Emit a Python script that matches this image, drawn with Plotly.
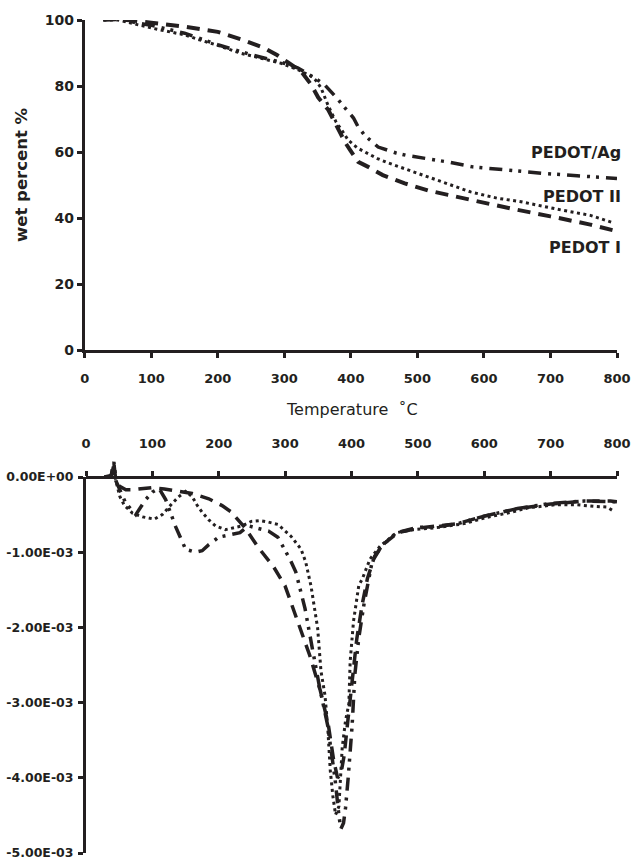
import numpy as np
import plotly.graph_objects as go

INK = "#231f20"
FONT = "DejaVu Sans"

# ---------------- TGA (weight percent) ----------------
tga_I_T = [28, 50, 100, 150, 200, 240, 270, 289, 305, 325, 340, 351, 366, 378, 392, 399, 411, 426, 448,
           481, 517, 546, 590, 640, 700, 760, 800]
tga_I_v = [100.2, 100.3, 99.2, 98.0, 96.4, 93.8, 91.5, 89.4, 87.2, 84.5, 80.5, 76.5, 72.8, 68.0, 62.7, 60.6,
           57.0, 55.5, 53.0, 50.5, 48.3, 47.0, 45.0, 42.9, 40.5, 38.0, 36.0]

tga_II_T = [28, 50, 102, 150, 174, 200, 235, 265, 295, 320, 340, 347, 355, 366, 378, 386, 396, 410, 421, 440,
            456, 480, 501, 541, 580, 620, 656, 717, 760, 795]
tga_II_v = [100.0, 100.0, 97.5, 95.5, 93.9, 92.3, 89.9, 88.5, 86.9, 85.0, 83.0, 81.8, 79.5, 74.0, 69.0, 66.7,
            63.6, 61.2, 60.0, 58.0, 56.7, 55.0, 53.6, 50.6, 47.9, 46.0, 44.9, 42.4, 40.8, 38.5]

tga_Ag_T = [28, 50, 102, 150, 200, 250, 295, 320, 343, 360, 376, 390, 404, 411, 421, 441, 468, 483, 511, 545,
            583, 640, 690, 740, 800]
tga_Ag_v = [100.0, 100.2, 98.3, 96.0, 92.5, 89.5, 87.2, 85.5, 82.8, 80.5, 77.0, 73.5, 70.3, 67.6, 65.0, 61.5,
            59.7, 59.0, 58.2, 57.0, 55.5, 54.3, 53.5, 52.8, 52.0]

# ---------------- DTG (derivative, units of 1e-3) ----------------
dtg_I_T = [28, 38, 42, 45, 50, 60, 70, 85, 100, 118, 140, 160, 185, 205, 218, 240, 259, 283, 300, 313, 325,
           337, 353, 365, 373, 379, 384, 389, 395, 402, 408, 416, 424, 435, 450, 470, 500, 530, 560, 600, 650,
           700, 750, 790, 800]
dtg_I_v = [0.0, 0.02, 0.18, -0.05, -0.12, -0.17, -0.17, -0.15, -0.14, -0.16, -0.19, -0.22, -0.29, -0.38,
           -0.46, -0.68, -0.93, -1.20, -1.45, -1.78, -2.08, -2.37, -2.84, -3.29, -3.76, -4.00, -3.95, -3.70,
           -3.20, -2.60, -2.15, -1.70, -1.35, -1.05, -0.88, -0.74, -0.68, -0.65, -0.62, -0.52, -0.42, -0.36,
           -0.32, -0.32, -0.33]

dtg_II_T = [28, 38, 42, 45, 51, 58, 70, 85, 103, 115, 130, 140, 150, 160, 167, 175, 185, 195, 210, 235, 249,
            262, 275, 289, 309, 324, 331, 339, 349, 354, 360, 364, 368, 372, 376, 381, 386, 391, 396, 398, 403,
            411, 416, 428, 443, 468, 493, 532, 570, 602, 640, 666, 706, 740, 766, 785, 796]
dtg_II_v = [0.0, 0.02, 0.18, -0.05, -0.26, -0.38, -0.48, -0.53, -0.56, -0.50, -0.35, -0.26, -0.19, -0.26,
            -0.37, -0.47, -0.57, -0.65, -0.70, -0.65, -0.59, -0.58, -0.60, -0.63, -0.79, -0.96, -1.13, -1.45,
            -2.01, -2.58, -2.90, -3.30, -3.90, -4.25, -4.49, -4.38, -3.60, -3.24, -3.02, -2.45, -1.92, -1.44,
            -1.36, -1.09, -0.92, -0.74, -0.70, -0.67, -0.62, -0.54, -0.47, -0.41, -0.37, -0.37, -0.39, -0.40,
            -0.46]

dtg_Ag_T = [28, 38, 42, 45, 50, 60, 75, 90, 100, 110, 120, 135, 150, 165, 175, 185, 200, 215, 232, 245, 260,
            275, 289, 307, 316, 330, 341, 352, 364, 375, 381, 384, 388, 391, 395, 401, 405, 411, 419, 431, 445,
            468, 500, 530, 560, 600, 650, 700, 750, 790, 800]
dtg_Ag_v = [0.0, 0.02, 0.20, -0.05, -0.15, -0.35, -0.50, -0.30, -0.20, -0.15, -0.30, -0.66, -0.96, -1.00,
            -0.98, -0.90, -0.80, -0.77, -0.74, -0.65, -0.68, -0.72, -0.80, -1.09, -1.26, -1.75, -2.28, -2.80,
            -3.30, -4.00, -4.50, -4.68, -4.60, -4.40, -4.00, -3.30, -2.63, -2.14, -1.68, -1.13, -0.92, -0.74,
            -0.67, -0.66, -0.62, -0.52, -0.42, -0.35, -0.32, -0.32, -0.33]

series_labels = ["PEDOT/Ag", "PEDOT II", "PEDOT I"]
label_values = [60, 46.4, 31]

x_ticks = [0, 100, 200, 300, 400, 500, 600, 700, 800]
y_top_ticks = [0, 20, 40, 60, 80, 100]
y_bot_ticks = [0, -1e-3, -2e-3, -3e-3, -4e-3, -5e-3]
y_bot_text = ["0.00E+00", "-1.00E-03", "-2.00E-03", "-3.00E-03", "-4.00E-03", "-5.00E-03"]

W, H = 632, 862


def fy(px):
    return 1 - px / H


def fx(px):
    return px / W


DASH_I = "13px,8px"
DOT_II = "3px,3.5px"
DDOT_AG = "13px,7px,3px,6px,3px,7px"

# bottom panel geometry (pixels)
ZERO_PX, BOT_PX, TOP_EXT_PX = 477, 853, 455
PX_PER_UNIT = (BOT_PX - ZERO_PX) / 5e-3

fig = go.Figure()

# TGA traces
fig.add_trace(go.Scatter(x=tga_I_T, y=tga_I_v, mode="lines", xaxis="x", yaxis="y",
                         line=dict(color=INK, width=4, dash=DASH_I), showlegend=False))
fig.add_trace(go.Scatter(x=tga_II_T, y=tga_II_v, mode="lines", xaxis="x", yaxis="y",
                         line=dict(color=INK, width=3, dash=DOT_II), showlegend=False))
fig.add_trace(go.Scatter(x=tga_Ag_T, y=tga_Ag_v, mode="lines", xaxis="x", yaxis="y",
                         line=dict(color=INK, width=3.5, dash=DDOT_AG), showlegend=False))

# DTG traces
s = 1e-3
fig.add_trace(go.Scatter(x=dtg_I_T, y=np.array(dtg_I_v) * s, mode="lines", xaxis="x2", yaxis="y2",
                         line=dict(color=INK, width=3.5, dash=DASH_I), showlegend=False))
fig.add_trace(go.Scatter(x=dtg_II_T, y=np.array(dtg_II_v) * s, mode="lines", xaxis="x2", yaxis="y2",
                         line=dict(color=INK, width=3, dash=DOT_II), showlegend=False))
fig.add_trace(go.Scatter(x=dtg_Ag_T, y=np.array(dtg_Ag_v) * s, mode="lines", xaxis="x2", yaxis="y2",
                         line=dict(color=INK, width=3.5, dash=DDOT_AG), showlegend=False))
# empty trace so the display axis y3 is drawn
fig.add_trace(go.Scatter(x=[None], y=[None], xaxis="x2", yaxis="y3", showlegend=False, hoverinfo="skip"))

axis_common = dict(showgrid=False, zeroline=False, showline=True, linecolor=INK, linewidth=3,
                   ticks="outside", tickcolor=INK, tickwidth=2.5, ticklen=5, automargin=False,
                   ticklabeloverflow="allow")

fig.update_layout(
    width=W, height=H, margin=dict(l=0, r=0, t=0, b=0, pad=0), autosize=False,
    paper_bgcolor="white", plot_bgcolor="rgba(0,0,0,0)", showlegend=False,
    font=dict(family=FONT, color=INK),
    xaxis=dict(domain=[fx(84.7), fx(617)], range=[0, 800], anchor="y", tickvals=x_ticks,
               tickfont=dict(family=FONT, size=13, color=INK, weight="bold"), ticklabelstandoff=9,
               **axis_common),
    yaxis=dict(domain=[fy(350), fy(20)], range=[0, 100], anchor="x", tickvals=y_top_ticks,
               tickfont=dict(family=FONT, size=14, color=INK, weight="bold"), ticklabelstandoff=0,
               **axis_common),
    xaxis2=dict(domain=[fx(86), fx(617)], range=[0, 800], anchor="free", position=fy(ZERO_PX), side="top",
                tickvals=x_ticks, tickfont=dict(family=FONT, size=13, color=INK, weight="bold"),
                ticklabelstandoff=18, **axis_common),
    yaxis2=dict(domain=[fy(BOT_PX), fy(TOP_EXT_PX)],
                range=[-5e-3, (ZERO_PX - TOP_EXT_PX) / PX_PER_UNIT], anchor="x2",
                visible=False, showgrid=False, zeroline=False, automargin=False),
    yaxis3=dict(domain=[fy(BOT_PX), fy(ZERO_PX)], range=[-5e-3, 0], anchor="x2", tickvals=y_bot_ticks,
                ticktext=y_bot_text, tickfont=dict(family=FONT, size=12.5, color=INK, weight="bold"),
                ticklabelstandoff=2, **axis_common),
)

# series labels
for lab, val in zip(series_labels, label_values):
    fig.add_annotation(x=800, y=val, xref="x", yref="y", text=lab, showarrow=False, xanchor="right",
                       xshift=6, yanchor="middle",
                       font=dict(family=FONT, size=16, color=INK, weight="bold"))

# axis titles
fig.add_annotation(x=fx(352), y=fy(409), xref="paper", yref="paper", text="Temperature  ˚C",
                   showarrow=False, xanchor="center", yanchor="middle",
                   font=dict(family=FONT, size=16, color=INK))
fig.add_annotation(x=fx(21), y=fy(175), xref="paper", yref="paper", text="wet percent %", textangle=-90,
                   showarrow=False, xanchor="center", yanchor="middle",
                   font=dict(family=FONT, size=16.5, color=INK, weight="bold"))

fig.write_html("out.html", config={"displayModeBar": False},
               post_script="document.body.style.margin='0';document.body.style.overflow='hidden';")
